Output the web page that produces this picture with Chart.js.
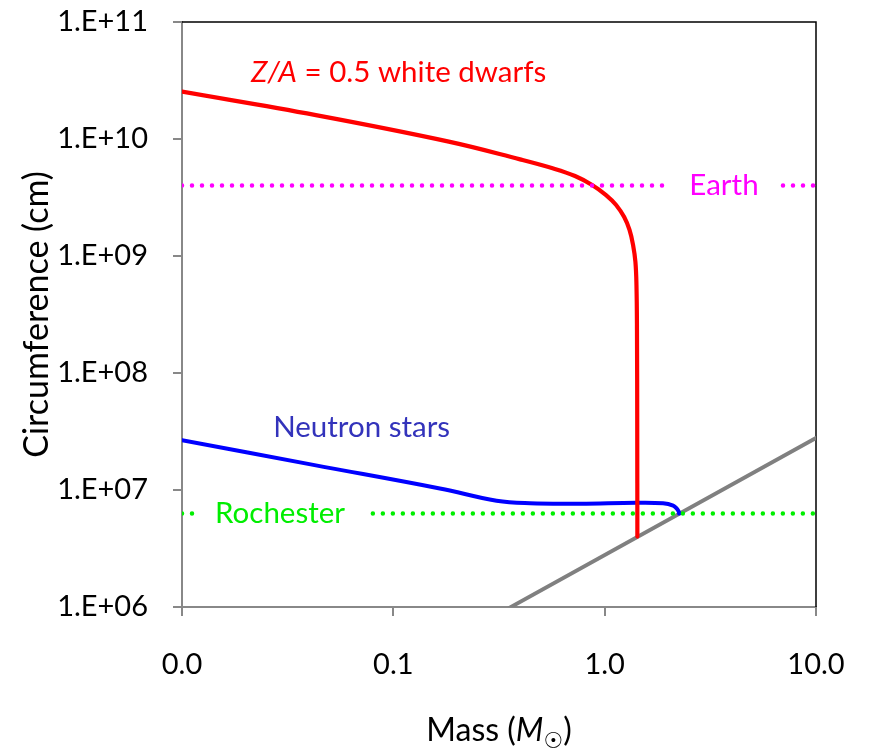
<!DOCTYPE html>
<html>
<head>
<meta charset="utf-8">
<script src="https://cdn.jsdelivr.net/npm/chart.js@4.4.1/dist/chart.umd.min.js"></script>
<style>
  html, body { margin: 0; padding: 0; background: #fff; }
  canvas { display: block; }
</style>
</head>
<body>
<canvas id="massChart" width="874" height="750"></canvas>
<script>
// mass in solar masses, circumference in cm
const wdMass = [0.01, 0.043, 0.183, 0.398, 0.572, 0.724, 0.872, 1.015, 1.133, 1.237, 1.311, 1.363, 1.398, 1.414, 1.422, 1.426, 1.428];
const wdCirc = [2.54e10, 1.6e10, 9.5e9, 6.7e9, 5.6e9, 4.83e9, 4.05e9, 3.32e9, 2.73e9, 2.15e9, 1.67e9, 1.24e9, 8.9e8, 5.65e8, 2.33e8, 3.26e7, 4e6];

const nsMass = [0.01, 0.0418, 0.166, 0.308, 0.444, 0.766, 1.41, 1.89, 2.11, 2.2, 2.24, 2.25];
const nsCirc = [2.67e7, 1.64e7, 1.03e7, 8.1e6, 7.7e6, 7.64e6, 7.78e6, 7.7e6, 7.35e6, 6.9e6, 6.55e6, 6.3e6];

const photonMass = [0.35, 10];
const photonCirc = [9.73e5, 2.78e7];

const earthMass = [0.01, 2.04, 3.5, 6.98, 10];
const earthCirc = [4.0e9, 4.0e9, null, 4.0e9, 4.0e9];

const rocMass = [0.01, 0.0113, 0.03, 0.080, 10];
const rocCirc = [6.3e6, 6.3e6, null, 6.3e6, 6.3e6];

const xTicks = [0.01, 0.1, 1, 10];
const yTicks = [1e6, 1e7, 1e8, 1e9, 1e10, 1e11];

// text notes placed in data space
const notes = [
  { runs: [['Z/A', 'i'], [' = 0.5 white dwarfs', 'n']], m: 0.106, c: 3.7e10, color: '#ff0000' },
  { runs: [['Earth', 'n']], m: 3.67, c: 4.0e9, color: '#ff00ff' },
  { runs: [['Neutron stars', 'n']], m: 0.0708, c: 3.39e7, color: '#3333bb' },
  { runs: [['Rochester', 'n']], m: 0.0291, c: 6.3e6, color: '#00ee00' }
];

const FONT = 'Lato';
const TICK_SIZE = 29;
const NOTE_SIZE = 29.5;
const TITLE_SIZE = 34;
const AXIS_GRAY = '#888888';

const pts = (xs, ys) => xs.map((x, i) => ({ x, y: ys[i] }));

function drawRuns(ctx, runs, cx, cy, color, size) {
  const fontFor = s => (s === 'i' ? 'italic ' : '') + (s === 's' ? Math.round(size * 0.7) : size) + 'px ' + FONT + ', DejaVu Sans';
  let total = 0;
  runs.forEach(r => { ctx.font = fontFor(r[1]); total += ctx.measureText(r[0]).width; });
  let x = cx - total / 2;
  ctx.fillStyle = color;
  ctx.textBaseline = 'middle';
  ctx.textAlign = 'left';
  runs.forEach(r => {
    ctx.font = fontFor(r[1]);
    ctx.fillText(r[0], x, r[1] === 's' ? cy + size * 0.3 : cy);
    x += ctx.measureText(r[0]).width;
  });
}

const notesPlugin = {
  id: 'notes',
  beforeDatasetsDraw(chart) {
    const { ctx, chartArea: a } = chart;
    ctx.save();
    ctx.strokeStyle = '#000';
    ctx.lineWidth = 1.5;
    ctx.beginPath();
    ctx.moveTo(a.left, a.top);
    ctx.lineTo(a.right, a.top);
    ctx.lineTo(a.right, a.bottom);
    ctx.stroke();
    ctx.restore();
  },
  afterDraw(chart) {
    const { ctx, chartArea: a, scales } = chart;
    ctx.save();
    notes.forEach(n => {
      drawRuns(ctx, n.runs, scales.x.getPixelForValue(n.m), scales.y.getPixelForValue(n.c), n.color, NOTE_SIZE);
    });
    drawRuns(ctx, [['Mass (', 'n'], ['M', 'i'], ['\u2609', 's'], [')', 'n']], (a.left + a.right) / 2, a.bottom + 124, '#000', 32);
    ctx.restore();
  }
};

const tickFont = { family: FONT, size: TICK_SIZE };

new Chart(document.getElementById('massChart'), {
  type: 'scatter',
  data: {
    datasets: [
      { data: pts(earthMass, earthCirc), borderColor: '#ff00ff', order: 0 },
      { data: pts(rocMass, rocCirc), borderColor: '#00ee00', order: 0 },
      { data: pts(wdMass, wdCirc), borderColor: '#ff0000', borderWidth: 4.2, tension: 0.4, borderDash: [], order: 1 },
      { data: pts(nsMass, nsCirc), borderColor: '#0000ff', borderWidth: 4, tension: 0.4, borderDash: [], order: 2 },
      { data: pts(photonMass, photonCirc), borderColor: '#808080', borderWidth: 4, borderDash: [], order: 3 }
    ]
  },
  options: {
    responsive: false,
    animation: false,
    showLine: true,
    layout: { padding: { left: 0, right: 58, top: 22, bottom: 0 } },
    elements: {
      point: { radius: 0, hoverRadius: 0 },
      line: { borderWidth: 4.5, borderDash: [0, 10], borderCapStyle: 'round', fill: false }
    },
    plugins: { legend: { display: false }, tooltip: { enabled: false } },
    scales: {
      x: {
        type: 'logarithmic', min: 0.01, max: 10,
        afterBuildTicks: s => { s.ticks = xTicks.map(v => ({ value: v })); },
        afterFit: s => { s.height = 143; s.paddingLeft = 0; s.paddingRight = 0; },
        ticks: { callback: v => Number(v).toFixed(1), font: tickFont, color: '#000', padding: 31, maxRotation: 0, autoSkip: false },
        grid: { drawOnChartArea: false, drawTicks: true, tickLength: 9, color: AXIS_GRAY, lineWidth: 2 },
        border: { color: AXIS_GRAY, width: 2 }
      },
      y: {
        type: 'logarithmic', min: 1e6, max: 1e11,
        afterBuildTicks: s => { s.ticks = yTicks.map(v => ({ value: v })); },
        afterFit: s => { s.width = 182; s.paddingTop = 0; s.paddingBottom = 0; },
        ticks: {
          callback: v => '1.E+' + String(Math.round(Math.log10(v))).padStart(2, '0'),
          font: tickFont, color: '#000', padding: 25, autoSkip: false
        },
        grid: { drawOnChartArea: false, drawTicks: true, tickLength: 9, color: AXIS_GRAY, lineWidth: 2 },
        border: { color: AXIS_GRAY, width: 2 },
        title: { display: true, text: 'Circumference (cm)', font: { family: FONT, size: TITLE_SIZE }, color: '#000', padding: { top: 17, bottom: 0 } }
      }
    }
  },
  plugins: [notesPlugin]
});
</script>
</body>
</html>
